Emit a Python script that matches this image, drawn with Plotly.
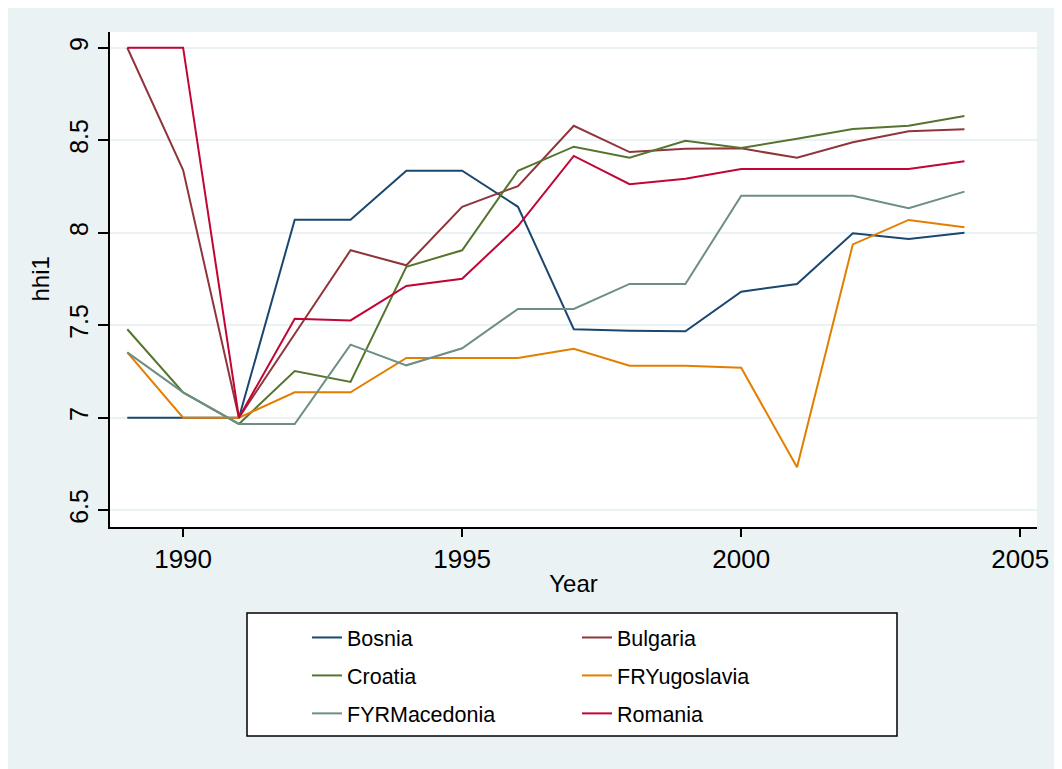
import plotly.graph_objects as go

years = list(range(1989, 2005))

bosnia = [7.0, 7.0, 7.0, 8.07, 8.07, 8.335, 8.335, 8.14, 7.478, 7.47, 7.467, 7.681, 7.723, 7.997, 7.966, 8.0]
bulgaria = [9.0, 8.339, 7.0, 7.451, 7.905, 7.824, 8.14, 8.252, 8.578, 8.436, 8.454, 8.456, 8.405, 8.489, 8.548, 8.559]
croatia = [7.478, 7.137, 6.966, 7.252, 7.193, 7.816, 7.905, 8.335, 8.465, 8.405, 8.497, 8.458, 8.508, 8.561, 8.578, 8.631]
fryugoslavia = [7.353, 7.0, 7.0, 7.137, 7.137, 7.323, 7.323, 7.323, 7.373, 7.281, 7.281, 7.27, 6.732, 7.937, 8.069, 8.029]
fyrmacedonia = [7.353, 7.137, 6.966, 6.966, 7.395, 7.283, 7.375, 7.588, 7.588, 7.723, 7.723, 8.2, 8.2, 8.2, 8.132, 8.222]
romania = [9.0, 9.0, 7.0, 7.535, 7.526, 7.712, 7.751, 8.036, 8.415, 8.262, 8.292, 8.344, 8.344, 8.344, 8.344, 8.386]

x_ticks = [1990, 1995, 2000, 2005]
y_ticks = [6.5, 7, 7.5, 8, 8.5, 9]
y_ticktext = ["6.5", "7", "7.5", "8", "8.5", "9"]

BG = "#eaf2f3"
FONT = "Liberation Sans, Arial, sans-serif"

# (name, values, colour, which legend column)
series = [
    ("Bosnia", bosnia, "#1a476f", "legend"),
    ("Bulgaria", bulgaria, "#90353b", "legend2"),
    ("Croatia", croatia, "#55752f", "legend"),
    ("FRYugoslavia", fryugoslavia, "#e37e00", "legend2"),
    ("FYRMacedonia", fyrmacedonia, "#6e8e84", "legend"),
    ("Romania", romania, "#c10534", "legend2"),
]

fig = go.Figure()
for name, vals, col, leg in series:
    fig.add_trace(go.Scatter(x=years, y=vals, mode="lines", name=name,
                             line=dict(color=col, width=2),
                             legend=leg, legendgroup=name))

# page puts the figure 8px in from the top-left corner
OFF = 8
W, H = 1062, 769
ml, mt = 110 - OFF, 32 - OFF
mr = W - (1037 - OFF)
mb = H - (527 - OFF)
pw = W - ml - mr
ph = H - mt - mb


def px_to_paper(px, py):
    return (px - OFF - ml) / pw, (H - mb - (py - OFF)) / ph


# white box behind the two legend columns
x0, y0 = px_to_paper(247, 613)
x1, y1 = px_to_paper(897, 736)
fig.add_shape(type="rect", xref="paper", yref="paper", x0=x0, y0=y0, x1=x1, y1=y1,
              line=dict(color="black", width=1.5), fillcolor="white", layer="below")

# y axis title as a rotated note left of the tick labels
tx, _ = px_to_paper(40, 280)
fig.add_annotation(text="hhi1", xref="paper", yref="paper", x=tx, y=0.5,
                   xanchor="center", yanchor="middle",
                   showarrow=False, textangle=-90, font=dict(size=24))

leg_common = dict(orientation="v", bgcolor="rgba(0,0,0,0)", borderwidth=0,
                  font=dict(family=FONT, size=21.5, color="black"),
                  tracegroupgap=7, xref="container", yref="container",
                  xanchor="left", yanchor="top", itemwidth=30)

fig.update_layout(
    width=W, height=H,
    margin=dict(l=ml, r=mr, t=mt, b=mb, autoexpand=False),
    paper_bgcolor=BG,
    plot_bgcolor="white",
    font=dict(family=FONT, color="black"),
    showlegend=True,
    legend=dict(x=(307 - OFF) / W, y=1 - (617 - OFF) / H, **leg_common),
    legend2=dict(x=(577 - OFF) / W, y=1 - (617 - OFF) / H, **leg_common),
    xaxis=dict(range=[1988.69, 2005.3], tickvals=x_ticks, showgrid=False, zeroline=False,
               showline=True, linecolor="black", linewidth=1.5,
               ticks="outside", ticklen=8, tickwidth=1.5, tickcolor="black",
               tickfont=dict(size=26), title=dict(text="Year", font=dict(size=24), standoff=2)),
    yaxis=dict(range=[6.409, 9.085], tickvals=y_ticks, ticktext=y_ticktext, tickangle=-90,
               showgrid=True, gridcolor=BG, gridwidth=2, zeroline=False,
               showline=True, linecolor="black", linewidth=1.5,
               ticks="outside", ticklen=10, tickwidth=1.5, tickcolor="black",
               tickfont=dict(size=25)),
)

fig.write_html("out.html")
